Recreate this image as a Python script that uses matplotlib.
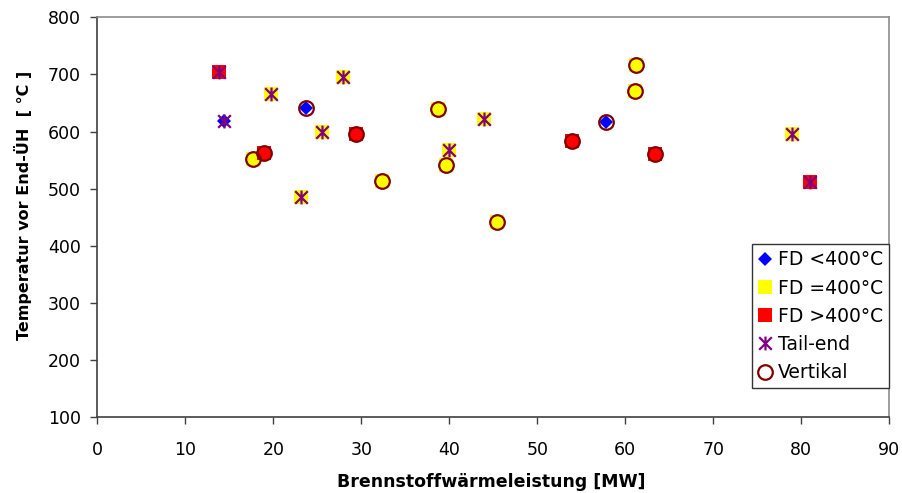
import numpy as np
import matplotlib
matplotlib.use("Agg")
import matplotlib.pyplot as plt
from matplotlib.path import Path

# Data
fd_lt_x = [14.4, 23.7, 57.8]
fd_lt_y = [618, 642, 616]

fd_eq_x = [19.7, 27.9, 25.5, 17.7, 32.3, 23.2, 38.7, 44.0, 40.0, 39.6, 45.4, 61.2, 61.1, 79.0]
fd_eq_y = [666, 695, 599, 552, 514, 486, 640, 622, 568, 542, 442, 717, 671, 595]

fd_gt_x = [13.8, 29.4, 18.9, 54.0, 63.4, 81.0]
fd_gt_y = [704, 596, 563, 583, 560, 511]

tail_x = [13.8, 14.4, 19.7, 27.9, 25.5, 23.2, 44.0, 40.0, 79.0, 81.0]
tail_y = [704, 618, 666, 695, 599, 486, 622, 568, 595, 511]

vert_x = [23.7, 57.8, 29.4, 18.9, 17.7, 32.3, 38.7, 39.6, 45.4, 61.2, 61.1, 54.0, 63.4]
vert_y = [642, 616, 596, 563, 552, 514, 640, 542, 442, 717, 671, 583, 560]

labels = ["FD <400°C", "FD =400°C", "FD >400°C", "Tail-end", "Vertikal"]

# Excel-style star: an X with a vertical bar
star = Path([(-1, -1), (1, 1), (-1, 1), (1, -1), (0, -1.1), (0, 1.1)],
            [Path.MOVETO, Path.LINETO, Path.MOVETO, Path.LINETO, Path.MOVETO, Path.LINETO])

fig = plt.figure(figsize=(9.03, 4.93), dpi=100)
ax = fig.add_axes([97.3 / 903, 1 - 417.3 / 493, 792 / 903, 400 / 493])

ax.plot(fd_lt_x, fd_lt_y, ls='none', marker='D', ms=7, mfc='#0000FF', mec='#0000FF', mew=0, label=labels[0])
ax.plot(fd_eq_x, fd_eq_y, ls='none', marker='s', ms=10, mfc='#FFFF00', mec='#FFFF00', mew=0, label=labels[1])
ax.plot(fd_gt_x, fd_gt_y, ls='none', marker='s', ms=10, mfc='#FF0000', mec='#FF0000', mew=0, label=labels[2])
ax.plot(tail_x, tail_y, ls='none', marker=star, ms=10, mfc='none', mec='#800080', mew=1.6, label=labels[3])
ax.plot(vert_x, vert_y, ls='none', marker='o', ms=10.5, mfc='none', mec='#800000', mew=1.6, label=labels[4])

ax.set_xlim(0, 90)
ax.set_ylim(100, 800)
ax.set_xticks(np.arange(0, 91, 10))
ax.set_yticks(np.arange(100, 801, 100))
ax.tick_params(direction='out', length=5, width=1, color='#404040', labelsize=12.5)
ax.tick_params(axis='x', pad=12)
ax.tick_params(axis='y', pad=7)

for s in ['left', 'bottom']:
    ax.spines[s].set_color('#404040')
    ax.spines[s].set_linewidth(1.2)
for s in ['top', 'right']:
    ax.spines[s].set_color('#8c8c8c')
    ax.spines[s].set_linewidth(1.2)

ax.set_xlabel("Brennstoffwärmeleistung [MW]", fontsize=12.5, fontweight='bold')
ax.xaxis.set_label_coords(0.498, -0.139)
ax.set_ylabel("Temperatur vor End-ÜH  [ °C ]", fontsize=11.5, fontweight='bold')
ax.yaxis.set_label_coords(-0.082, 0.531)

leg = ax.legend(loc='upper right', bbox_to_anchor=(1.0, 0.4325), borderaxespad=0,
                fontsize=13.5, fancybox=False, framealpha=1, edgecolor='#333333',
                borderpad=0.33, handlelength=0.8, handletextpad=0.27, labelspacing=0.49)
leg.get_frame().set_linewidth(1.0)

fig.savefig("out.png", dpi=100)
